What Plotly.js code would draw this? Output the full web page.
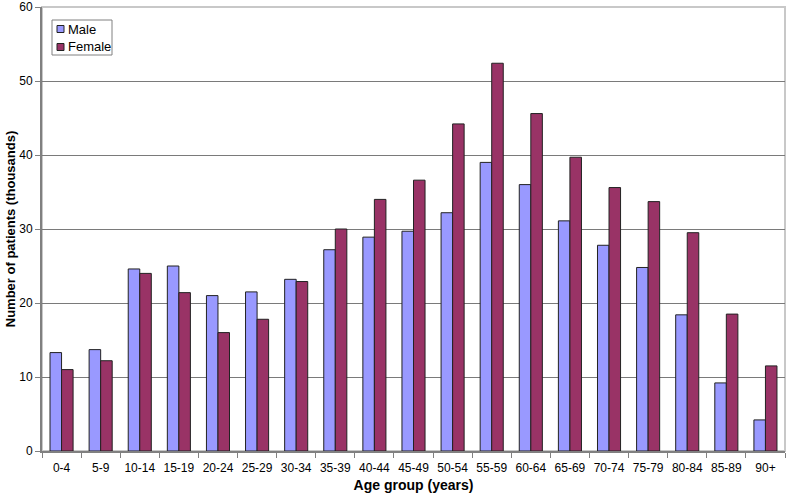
<!DOCTYPE html>
<html>
<head>
<meta charset="utf-8">
<script src="https://cdn.plot.ly/plotly-3.0.1.min.js"></script>
<style>html,body{margin:0;padding:0;background:#fff;}#chart{width:787px;height:493px;}</style>
</head>
<body>
<div id="chart"></div>
<script>
var ageGroups = ["0-4","5-9","10-14","15-19","20-24","25-29","30-34","35-39","40-44","45-49","50-54","55-59","60-64","65-69","70-74","75-79","80-84","85-89","90+"];
var maleValues = [13.3,13.7,24.6,25.0,21.0,21.5,23.2,27.2,28.9,29.7,32.2,39.0,36.0,31.1,27.8,24.8,18.4,9.2,4.2];
var femaleValues = [11.0,12.2,24.0,21.4,16.0,17.8,22.9,30.0,34.0,36.6,44.2,52.4,45.6,39.7,35.6,33.7,29.5,18.5,11.5];
var yTicks = [0,10,20,30,40,50,60];
var seriesNames = ['Male','Female'];
var seriesColors = ['#9999FF','#993366'];

var W = 787, H = 493, M = {l:42, r:2, t:7, b:42};
var PW = W - M.l - M.r, PH = H - M.t - M.b;
function px(x){ return (x - M.l) / PW; }
function py(y){ return (H - M.b - y) / PH; }

var FONT = 'Liberation Sans, Arial, sans-serif';

var traces = [
  {type:'bar', name:seriesNames[0], x:ageGroups, y:maleValues, showlegend:false,
   marker:{color:seriesColors[0], line:{color:'#222222', width:1}}},
  {type:'bar', name:seriesNames[1], x:ageGroups, y:femaleValues, showlegend:false,
   marker:{color:seriesColors[1], line:{color:'#222222', width:1}}}
];

var shapes = [
  {type:'rect', xref:'paper', yref:'paper', x0:0, x1:1, y0:0, y1:1,
   line:{color:'#C8C8C8', width:2}, layer:'below'},
  // legend box
  {type:'rect', xref:'paper', yref:'paper', x0:px(52), x1:px(112), y0:py(55), y1:py(20),
   line:{color:'#808080', width:1}, fillcolor:'#fff', layer:'above'}
];
var annotations = [];
var rowY = [29, 47];
for (var i = 0; i < seriesNames.length; i++) {
  shapes.push({type:'rect', xref:'paper', yref:'paper', x0:px(57), x1:px(64),
    y0:py(rowY[i]+3.5), y1:py(rowY[i]-3.5), fillcolor:seriesColors[i],
    line:{color:'#222222', width:1}, layer:'above'});
  annotations.push({xref:'paper', yref:'paper', x:px(66), y:py(rowY[i]), text:seriesNames[i],
    showarrow:false, xanchor:'left', yanchor:'middle', font:{size:13, family:FONT, color:'#000'}});
}

var layout = {
  width:W, height:H,
  margin:M,
  paper_bgcolor:'#fff', plot_bgcolor:'#fff',
  font:{family:FONT, size:12, color:'#000'},
  bargap:0.41, bargroupgap:0,
  showlegend:false,
  xaxis:{type:'category', tickson:'boundaries', ticks:'outside', ticklen:5, tickangle:0,
         tickcolor:'#808080', showline:true, linecolor:'#808080', linewidth:2,
         ticklabelstandoff:5,
         showgrid:false, tickfont:{size:12}, automargin:false,
         title:{text:'Age group (years)', font:{size:14, family:FONT, weight:'bold'}, standoff:7}},
  yaxis:{range:[0,60], tickvals:yTicks, ticks:'outside', ticklen:5, tickcolor:'#808080',
         ticklabeloverflow:'allow',
         showline:true, linecolor:'#808080', linewidth:2, showgrid:true, automargin:false,
         gridcolor:'#7a7a7a', gridwidth:1, zeroline:false, tickfont:{size:12},
         title:{text:'Number of patients (thousands)', font:{size:13, family:FONT, weight:'bold'}, standoff:1}},
  shapes:shapes,
  annotations:annotations
};

Plotly.newPlot('chart', traces, layout, {displayModeBar:false});
</script>
</body>
</html>
